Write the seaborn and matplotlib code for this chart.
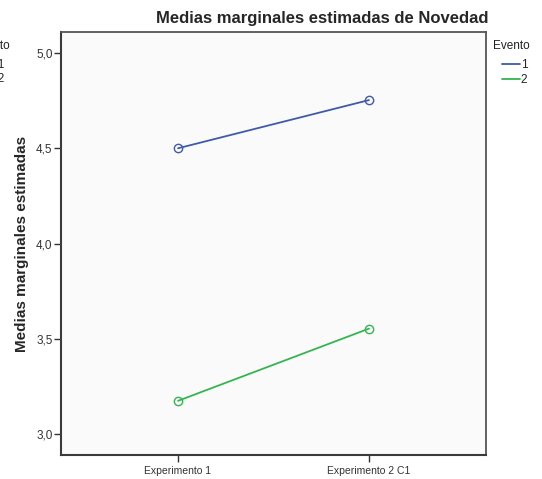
import pandas as pd
import matplotlib
matplotlib.use("Agg")
import matplotlib.pyplot as plt
import seaborn as sns
from matplotlib.lines import Line2D
from matplotlib.ticker import FuncFormatter, MultipleLocator

# Datos
categorias = ["Experimento 1", "Experimento 2 C1"]
evento_1 = [4.50, 4.753]
evento_2 = [3.174, 3.553]
eventos = ["1", "2"]

colores = {"1": "#3F5BA9", "2": "#35B550"}

df = pd.DataFrame({
    "Experimento": categorias * 2,
    "Media": evento_1 + evento_2,
    "Evento": [eventos[0]] * len(categorias) + [eventos[1]] * len(categorias),
})

sns.set_style("white")
plt.rcParams["font.family"] = ["Liberation Sans", "DejaVu Sans"]

fig = plt.figure(figsize=(5.42, 4.79), dpi=100)
ax = fig.add_axes([61 / 542, 1 - 455 / 479, (486 - 61) / 542, (455 - 32) / 479])
ax.set_facecolor("#FAFAFA")

sns.lineplot(data=df, x="Experimento", y="Media", hue="Evento",
             palette=colores, marker="o", linewidth=1.3, legend=False, ax=ax)

# Marcadores huecos como en SPSS
for linea in ax.lines:
    c = linea.get_color()
    linea.set_markerfacecolor("none")
    linea.set_markeredgecolor(c)
    linea.set_markersize(6)
    linea.set_markeredgewidth(1.0)

ax.set_xlim(-0.613, 1.613)
ax.set_ylim(2.8895, 5.1105)
ax.yaxis.set_major_locator(MultipleLocator(0.5))
ax.yaxis.set_major_formatter(FuncFormatter(lambda v, p: f"{v:.1f}".replace(".", ",")))

ax.set_xlabel("")
ax.set_ylabel("Medias marginales estimadas", fontsize=11, fontweight="bold", labelpad=5)
ax.tick_params(axis="y", labelsize=8.5, colors="#333333", length=5, width=1, pad=1,
               direction="out", left=True)
ax.tick_params(axis="x", labelsize=7.5, colors="#333333", length=5, width=1, pad=3,
               direction="out", bottom=True)
for lbl in ax.get_yticklabels() + ax.get_xticklabels():
    lbl.set_color("#333333")

for lado in ["left", "bottom"]:
    ax.spines[lado].set_color("#3A3A3A")
    ax.spines[lado].set_linewidth(1.5)
for lado in ["top", "right"]:
    ax.spines[lado].set_color("#555555")
    ax.spines[lado].set_linewidth(1.3)

fig.text(322 / 542, 1 - 18 / 479, "Medias marginales estimadas de Novedad",
         ha="center", va="center", fontsize=12, fontweight="bold")

# Leyenda
fig.text(493 / 542, 1 - 46 / 479, "Evento", ha="left", va="center", fontsize=8.5, color="#222222")
handles = [Line2D([0], [0], color=colores[e], linewidth=1.3) for e in eventos]
ax.legend(handles, eventos, loc="upper left", bbox_to_anchor=(502 / 542, 1 - 59 / 479),
          bbox_transform=fig.transFigure, frameon=False, fontsize=8.5,
          handlelength=1.5, handletextpad=0.1, labelspacing=0.25, borderpad=0, borderaxespad=0)

# Restos de la leyenda de otro gráfico, cortados en el borde izquierdo
fig.text(10 / 542, 1 - 46 / 479, "Evento", ha="right", va="center", fontsize=8.5, color="#222222")
fig.text(4 / 542, 1 - 65 / 479, "—1", ha="right", va="center", fontsize=8.5, color="#222222")
fig.text(4 / 542, 1 - 79 / 479, "—2", ha="right", va="center", fontsize=8.5, color="#222222")

fig.savefig("out.png", dpi=100)
